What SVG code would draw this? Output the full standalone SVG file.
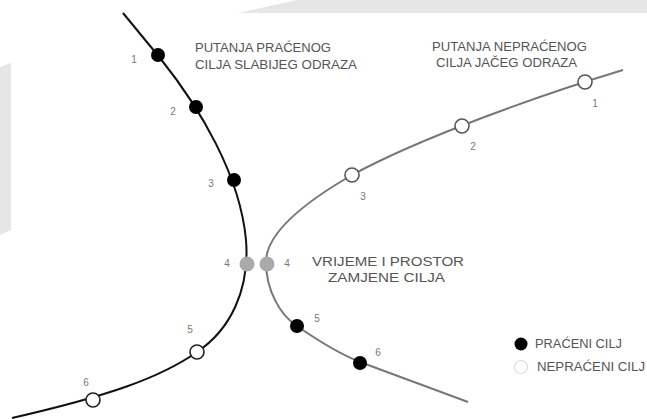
<svg xmlns="http://www.w3.org/2000/svg" width="647" height="419" viewBox="0 0 647 419">
<style>
.bg{fill:#e6e6e6}
.trk{fill:none;stroke:#111;stroke-width:2}
.utr{fill:none;stroke:#777;stroke-width:2}
.full{fill:#000}
.hol{fill:#fff;stroke:#222;stroke-width:1.6}
.holg{fill:#fff;stroke:#555;stroke-width:1.6}
.swap{fill:#aaa}
.num{font-family:"Liberation Sans",Arial,sans-serif;font-size:10px;fill:#777;text-anchor:middle}
.ttl{font-family:"Liberation Sans",Arial,sans-serif;font-size:12px;fill:#555}
</style>
<rect width="647" height="419" fill="#fff"/>
<polygon class="bg" points="238,13 297,0 647,0 647,13"/>
<polygon class="bg" points="0,67 11,63 11,230 0,235"/>
<g id="connectors">
<path class="trk" d="M123,13 L160,58 C200,108 240,175 246,240 C250,290 230,330 197,352 C160,378 108,396 12,418"/>
<path class="utr" d="M623,70 C540,95 420,138 352,175 C300,205 266,235 266,262 C266,290 280,315 297,326 C320,342 345,356 360,362 L468,402"/>
</g>
<g id="tracked-1"><circle class="full" cx="158" cy="55" r="7"/><text class="num" x="134" y="63">1</text></g>
<g id="tracked-2"><circle class="full" cx="196" cy="107" r="7"/><text class="num" x="173" y="115">2</text></g>
<g id="tracked-3"><circle class="full" cx="234" cy="180" r="7"/><text class="num" x="211" y="187">3</text></g>
<g id="tracked-4"><circle class="swap" cx="247" cy="264" r="7.5"/><text class="num" x="227" y="267">4</text></g>
<g id="tracked-5"><circle class="hol" cx="197" cy="352" r="7"/><text class="num" x="190" y="333">5</text></g>
<g id="tracked-6"><circle class="hol" cx="93" cy="400" r="7"/><text class="num" x="86" y="386">6</text></g>
<g id="untracked-1"><circle class="holg" cx="585" cy="82" r="7"/><text class="num" x="595" y="107">1</text></g>
<g id="untracked-2"><circle class="holg" cx="462" cy="126" r="7"/><text class="num" x="473" y="150">2</text></g>
<g id="untracked-3"><circle class="holg" cx="352" cy="175" r="7"/><text class="num" x="363" y="200">3</text></g>
<g id="untracked-4"><circle class="swap" cx="267" cy="264" r="7.5"/><text class="num" x="287" y="267">4</text></g>
<g id="untracked-5"><circle class="full" cx="297" cy="326" r="7"/><text class="num" x="317" y="322">5</text></g>
<g id="untracked-6"><circle class="full" cx="360" cy="363" r="7"/><text class="num" x="378" y="356">6</text></g>
<g id="label-tracked">
<text class="ttl" x="195" y="52" textLength="136" lengthAdjust="spacingAndGlyphs">PUTANJA PRA&#x106;ENOG</text>
<text class="ttl" x="195" y="69" textLength="162" lengthAdjust="spacingAndGlyphs">CILJA SLABIJEG ODRAZA</text>
</g>
<g id="label-untracked">
<text class="ttl" x="432" y="51" textLength="155" lengthAdjust="spacingAndGlyphs">PUTANJA NEPRA&#x106;ENOG</text>
<text class="ttl" x="436" y="67" textLength="141" lengthAdjust="spacingAndGlyphs">CILJA JA&#x10C;EG ODRAZA</text>
</g>
<g id="label-swap">
<text class="ttl" x="312" y="266" textLength="152" lengthAdjust="spacingAndGlyphs">VRIJEME I PROSTOR</text>
<text class="ttl" x="328" y="282" textLength="117" lengthAdjust="spacingAndGlyphs">ZAMJENE CILJA</text>
</g>
<g id="legend">
<circle class="full" cx="521" cy="344" r="6.5"/>
<text class="ttl" x="535" y="348" textLength="87" lengthAdjust="spacingAndGlyphs">PRA&#x106;ENI CILJ</text>
<circle cx="521" cy="367" r="6.5" fill="#fff" stroke="#ddd" stroke-width="1.2"/>
<text class="ttl" x="537" y="371" textLength="108" lengthAdjust="spacingAndGlyphs">NEPRA&#x106;ENI CILJ</text>
</g>
</svg>
